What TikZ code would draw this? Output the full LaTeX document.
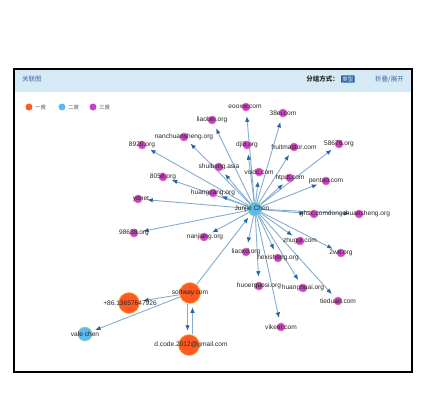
\documentclass[tikz,border=0pt]{standalone}
\usepackage{fontspec}
\setmainfont{Liberation Sans}
\newfontfamily\cjk{Noto Sans CJK SC}
\usetikzlibrary{arrows.meta,backgrounds}
\definecolor{purp}{RGB}{198,66,200}
\definecolor{purpb}{RGB}{240,110,170}
\definecolor{orng}{RGB}{255,90,35}
\definecolor{orngb}{RGB}{255,190,70}
\definecolor{skyb}{RGB}{92,186,242}
\definecolor{skybb}{RGB}{170,215,140}
\definecolor{edgec}{RGB}{132,172,210}
\definecolor{arrc}{RGB}{40,100,160}
\definecolor{hdr}{RGB}{214,234,245}
\definecolor{hdrtxt}{RGB}{60,110,165}
\tikzset{
  pn/.style={circle,fill=purp,draw=purpb,line width=0.6pt,inner sep=0pt,minimum size=8pt},
  on/.style={circle,fill=orng,draw=orngb,line width=0.5pt,inner sep=0pt,minimum size=21pt},
  bn/.style={circle,fill=skyb,draw=skybb,line width=0.6pt,inner sep=0pt,minimum size=14pt},
  lbl/.style={inner sep=0pt,font=\fontsize{6.6}{7}\selectfont,text=black!85},
  edg/.style={draw=edgec,line width=0.9pt,-{Latex[length=5.5pt,width=4.5pt,color=arrc]},shorten >=5pt},
  edgo/.style={draw=edgec,line width=0.9pt,-{Latex[length=5.5pt,width=4.5pt,color=arrc]},shorten >=3.5pt},
  leg/.style={circle,inner sep=0pt,minimum size=7pt},
  legt/.style={inner sep=0pt,anchor=west,font=\cjk\fontsize{5.5}{6}\selectfont,text=black!65},
}
\begin{document}
\begin{tikzpicture}[x=1pt,y=-1pt]
\useasboundingbox (0,0) rectangle (430,400);
% header band
\fill[hdr] (14,69) rectangle (412,92);
\node[inner sep=0pt,anchor=west,font=\cjk\fontsize{6.5}{7}\selectfont,text=hdrtxt] (title) at (22,79) {关联图};
\node[inner sep=0pt,anchor=east,font=\cjk\bfseries\fontsize{6.5}{7}\selectfont,text=black!85] (grp) at (339,79) {分组方式：};
\node[inner sep=1.2pt,anchor=west,fill=arrc,font=\cjk\fontsize{5.5}{6}\selectfont,text=white,rounded corners=0.5pt] (badge) at (341,79) {类型};
\node[inner sep=0pt,anchor=west,font=\cjk\fontsize{6.5}{7}\selectfont,text=hdrtxt] (fold) at (375,79) {折叠/展开};
% frame
\draw[black,line width=2.2pt] (14,69) rectangle (412,372);
% legend
\node[leg,fill=orng] (l1) at (29,107) {};
\node[legt] (l1t) at (35,107) {一度};
\node[leg,fill=skyb] (l2) at (62,107) {};
\node[legt] (l2t) at (68,107) {二度};
\node[leg,fill=purp] (l3) at (93,107) {};
\node[legt] (l3t) at (99,107) {三度};
% nodes
\node[bn] (c) at (255,209) {};
\node[pn] (eoo) at (246,107) {};
\node[pn] (e38) at (283,113) {};
\node[pn] (liaobei) at (212,120) {};
\node[pn] (nanch) at (184,137) {};
\node[pn] (e89) at (142,145) {};
\node[pn] (djl) at (247,145) {};
\node[pn] (fruit) at (294,147) {};
\node[pn] (e586) at (339,144) {};
\node[pn] (shui) at (219,167) {};
\node[pn] (visd) at (259,172) {};
\node[pn] (e805) at (163,177) {};
\node[pn] (htp) at (290,178) {};
\node[pn] (pent) at (326,181) {};
\node[pn] (huangc) at (213,193) {};
\node[pn] (yd) at (138,199) {};
\node[pn] (ghsc) at (314,214) {};
\node[pn] (dongch) at (359,214) {};
\node[pn] (e986) at (134,233) {};
\node[pn] (nanj) at (204,237) {};
\node[pn] (zhug) at (300,241) {};
\node[pn] (liaox) at (246,252) {};
\node[pn] (e2wi) at (341,253) {};
\node[pn] (hexi) at (278,258) {};
\node[pn] (huoer) at (259,286) {};
\node[pn] (hhuai) at (303,288) {};
\node[pn] (tied) at (338,301) {};
\node[pn] (vikee) at (281,327) {};
\node[on] (sw) at (190,293) {};
\node[on] (p86) at (129,303) {};
\node[on] (dc) at (189,345) {};
\node[bn] (vale) at (85,334) {};
% edges
\begin{pgfonlayer}{background}
\foreach \t in {eoo,e38,liaobei,nanch,e89,djl,fruit,e586,shui,visd,e805,htp,pent,huangc,yd,ghsc,dongch,e986,nanj,zhug,liaox,e2wi,hexi,huoer,hhuai,tied,vikee}
  \draw[edg] (c) -- (\t);
\draw[edgo] (sw) -- (c);
\draw[edgo] (sw) -- (p86);
\draw[edgo] (sw) -- (vale);
\draw[edgo] ([xshift=-2.5pt]sw.south) -- ([xshift=-1.5pt]dc.north);
\draw[edgo] ([xshift=3.5pt]dc.north) -- ([xshift=2.5pt]sw.south);
\end{pgfonlayer}
% labels
\node[lbl] (tc) at (252,209) {Junjie Chen};
\node[lbl] (teoo) at (245,107) {eooxw.com};
\node[lbl] (te38) at (283,113) {38ei.com};
\node[lbl] (tliaobei) at (212,120) {liaobei.org};
\node[lbl] (tnanch) at (184,137) {nanchuansheng.org};
\node[lbl] (te89) at (142,145) {8920.org};
\node[lbl] (tdjl) at (247,145) {djl8.org};
\node[lbl] (tfruit) at (294,147) {fruitmastor.com};
\node[lbl] (te586) at (339,144) {58678.org};
\node[lbl] (tshui) at (219,167) {shuibeng.asia};
\node[lbl] (tvisd) at (259,172) {visdc.com};
\node[lbl] (te805) at (163,177) {8058.org};
\node[lbl] (thtp) at (290,178) {htpdt.com};
\node[lbl] (tpent) at (326,181) {pentao.com};
\node[lbl] (thuangc) at (213,193) {huangcang.org};
\node[lbl] (tyd) at (141,199) {ydnet};
\node[lbl] (tghsc) at (314,214) {ghsc.com};
\node[lbl] (tdongch) at (359,214) {dongchuansheng.org};
\node[lbl] (te986) at (134,233) {98638.org};
\node[lbl] (tnanj) at (205,237) {nanjiang.org};
\node[lbl] (tzhug) at (300,241) {zhugui.com};
\node[lbl] (tliaox) at (246,252) {liaoxd.org};
\node[lbl] (te2wi) at (341,253) {2wit.org};
\node[lbl] (thexi) at (278,258) {hexisheng.org};
\node[lbl] (thuoer) at (259,286) {huoerguosi.org};
\node[lbl] (thhuai) at (303,288) {huanghuai.org};
\node[lbl] (ttied) at (338,301) {tieduan.com};
\node[lbl] (tvikee) at (281,327) {vikeer.com};
\node[lbl] (tsw) at (190,293) {softway.com};
\node[lbl] (tp86) at (130,303) {+86.13657647926};
\node[lbl] (tdc) at (191,345) {d.code.2012@gmail.com};
\node[lbl] (tvale) at (85,334) {vale chen};
\end{tikzpicture}
\end{document}
